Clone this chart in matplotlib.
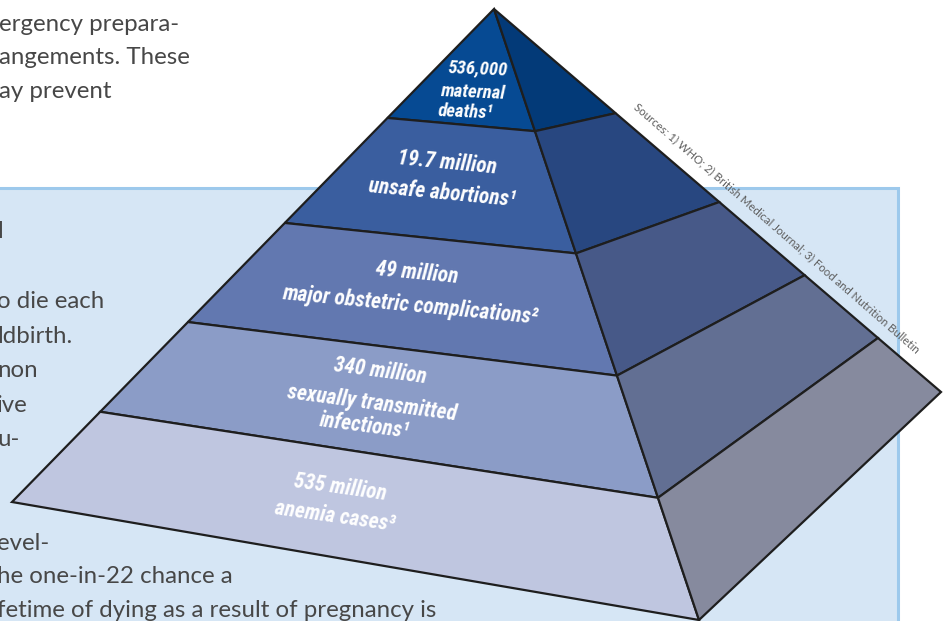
import matplotlib
matplotlib.use("Agg")
import matplotlib.pyplot as plt
from matplotlib import font_manager
from matplotlib.patches import Polygon, Rectangle

# ---------------- data ----------------
counts = ["536,000", "19.7 million", "49 million", "340 million", "535 million"]
outcomes = [["maternal", "deaths\u00b9"],
            ["unsafe abortions\u00b9"],
            ["major obstetric complications\u00b2"],
            ["sexually transmitted", "infections\u00b9"],
            ["anemia cases\u00b3"]]
sources = "Sources: 1) WHO; 2) British Medical Journal; 3) Food and Nutrition Bulletin"
top_lines = ["ergency prepara-", "angements. These", "ay prevent"]
box_lines = [("l", 238), ("o die each", 308), ("ldbirth.", 343), ("non", 377),
             ("ive", 412), ("u-", 446), ("evel-", 550),
             ("he one-in-22 chance a", 583),
             ("fetime of dying as a result of pregnancy is", 617)]

front_colors = ["#064a93", "#3a5e9f", "#6278b0", "#8b9cc7", "#bfc6e0"]
side_colors = ["#033a78", "#284780", "#475988", "#626f93", "#868a9e"]

# ---------------- fonts ----------------
avail = {f.name for f in font_manager.fontManager.ttflist}
label_font = next((f for f in ["Liberation Sans Narrow", "Roboto Condensed",
                               "Open Sans Condensed", "Liberation Sans"] if f in avail),
                  "DejaVu Sans")
body_font = "Lato" if "Lato" in avail else "DejaVu Sans"

fig = plt.figure(figsize=(9.46, 6.21), dpi=100)
ax = fig.add_axes([0, 0, 1, 1])
ax.set_xlim(0, 946)
ax.set_ylim(621, 0)
ax.axis("off")

# ---------------- background page ----------------
ax.add_patch(Rectangle((-10, 187.5), 907.5, 450, facecolor="#d6e6f5",
                       edgecolor="#9dc9ec", lw=2.2, zorder=1))
txtc = "#474747"
for i, s in enumerate(top_lines):
    ax.text(-1, 31 + 33.5 * i, s, fontsize=17.3, family=[body_font, "DejaVu Sans"],
            color=txtc, va="baseline", ha="left", zorder=2)
for s, yb in box_lines:
    ax.text(-3, yb, s, fontsize=17.3, family=[body_font, "DejaVu Sans"],
            color=txtc, va="baseline", ha="left", zorder=2)

# ---------------- pyramid geometry ----------------
apex = (494, 9)
left = (12, 502)
front = (699, 620)
right = (941, 392)
t_left = [0, 0.221, 0.434, 0.635, 0.817, 1.0]
t_ridge = [0, 0.2, 0.4, 0.6, 0.8, 1.0]
t_right = [0, 0.272, 0.504, 0.695, 0.859, 1.0]


def along(p, t):
    return (apex[0] + (p[0] - apex[0]) * t, apex[1] + (p[1] - apex[1]) * t)


edge = "#1e1e1e"
for i in range(5):
    fpts = [along(left, t_left[i]), along(left, t_left[i + 1]),
            along(front, t_ridge[i + 1]), along(front, t_ridge[i])]
    spts = [along(front, t_ridge[i]), along(front, t_ridge[i + 1]),
            along(right, t_right[i + 1]), along(right, t_right[i])]
    ax.add_patch(Polygon(fpts, closed=True, facecolor=front_colors[i],
                         edgecolor=edge, lw=1.6, joinstyle="miter", zorder=3))
    ax.add_patch(Polygon(spts, closed=True, facecolor=side_colors[i],
                         edgecolor=edge, lw=1.6, joinstyle="miter", zorder=3))

# ---------------- labels ----------------
line_pos = [[(478, 69), (473, 92), (466, 112)],
            [(447, 163), (442, 193)],
            [(417, 273), (410, 305)],
            [(380, 371), (372, 403), (365, 426)],
            [(340, 488), (335, 516)]]
rots = [-2.5, -5.5, -5.5, -7.5, -8]
sizes = [13.5, 15.5, 15.5, 15.5, 15.5]
for i in range(5):
    lines = [counts[i]] + outcomes[i]
    for s, (x, y) in zip(lines, line_pos[i]):
        ax.text(x, y, s, fontsize=sizes[i], family=[label_font, "DejaVu Sans"],
                weight="bold", style="italic", color="white", ha="center",
                va="center", rotation=rots[i], rotation_mode="anchor", zorder=5)

ax.text(777, 228, sources, fontsize=8.2, family=[body_font, "DejaVu Sans"],
        color="#5e5e5e", ha="center", va="center", rotation=-41,
        rotation_mode="anchor", zorder=5)

fig.savefig("out.png", dpi=100)
